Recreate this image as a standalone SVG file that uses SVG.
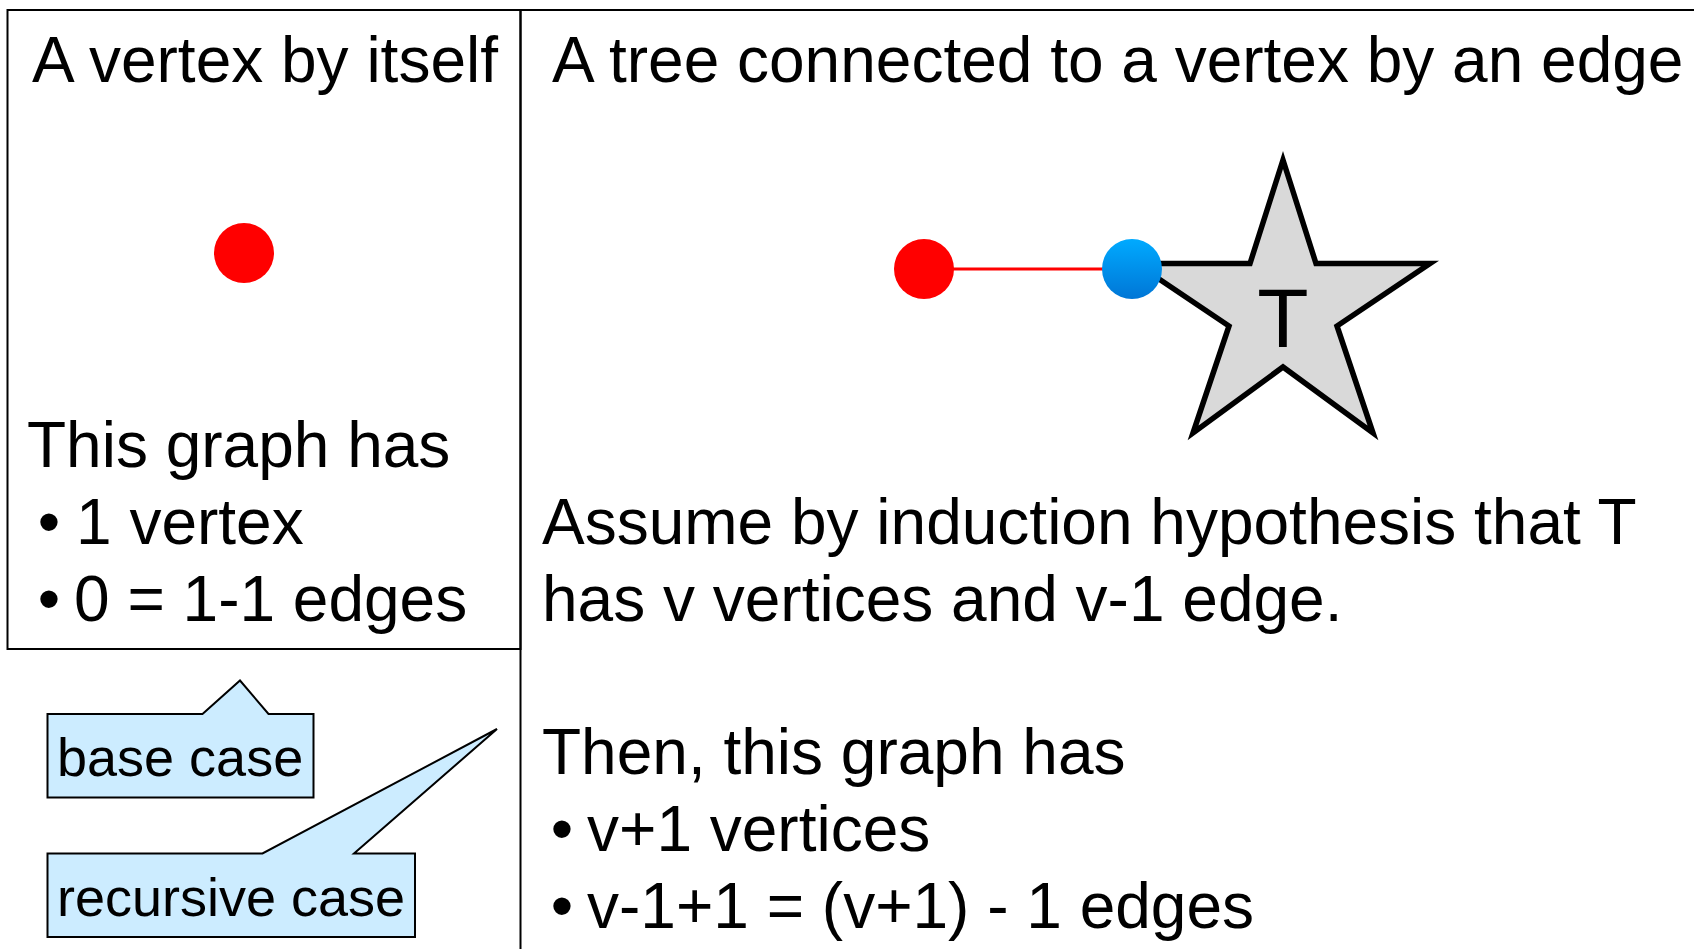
<svg xmlns="http://www.w3.org/2000/svg" width="1694" height="949" viewBox="0 0 1694 949">
  <style>
    .t { font-family: "Liberation Sans", Arial, sans-serif; fill: #000; }
    .big { font-size: 64px; }
    .call { font-size: 54px; }
    .frame { fill: none; stroke: #000; stroke-width: 2; }
    .callout { fill: #CCECFF; stroke: #000; stroke-width: 2; stroke-linejoin: miter; }
    .red { fill: #FF0000; }
  </style>
  <defs>
    <linearGradient id="blueGrad" x1="0" y1="0" x2="0" y2="1">
      <stop offset="0" stop-color="#00AAFF"/>
      <stop offset="1" stop-color="#0076D6"/>
    </linearGradient>
  </defs>
  <rect width="1694" height="949" fill="#fff"/>

  <g id="frames">
    <rect class="frame" x="7.5" y="10" width="513" height="639"/>
    <line class="frame" x1="520.5" y1="10" x2="1694" y2="10"/>
    <line class="frame" x1="520.5" y1="10" x2="520.5" y2="949"/>
  </g>

  <g id="left-panel">
    <text class="t big" x="32" y="82">A vertex by itself</text>
    <text class="t big" x="27" y="467">This graph has</text>
    <text class="t big" x="49" y="544" text-anchor="middle">•</text>
    <text class="t big" x="76" y="544">1 vertex</text>
    <text class="t big" x="49" y="621" text-anchor="middle">•</text>
    <text class="t big" x="74" y="621">0 = 1-1 edges</text>
  </g>

  <g id="connectors">
    <line x1="924" y1="269" x2="1132" y2="269" stroke="#FF0000" stroke-width="3"/>
  </g>

  <g id="vertex-single">
    <circle class="red" cx="244" cy="253" r="30"/>
  </g>

  <g id="tree-T">
    <polygon points="1283,160 1316,263.5 1430,263.5 1337,326 1373,433 1283,367 1193,433 1229,326 1136,263.5 1250,263.5" fill="#D9D9D9" stroke="#000" stroke-width="5.5" stroke-linejoin="miter"/>
    <text class="t" x="1283" y="347" font-size="84" text-anchor="middle">T</text>
  </g>

  <g id="vertex-new">
    <circle class="red" cx="924" cy="269" r="30"/>
  </g>

  <g id="vertex-root">
    <circle cx="1132" cy="269" r="30" fill="url(#blueGrad)"/>
  </g>

  <g id="right-panel">
    <text class="t big" x="552" y="82">A tree connected to a vertex by an edge</text>
    <text class="t big" x="542" y="544">Assume by induction hypothesis that T</text>
    <text class="t big" x="542" y="621">has v vertices and v-1 edge.</text>
    <text class="t big" x="542" y="774">Then, this graph has</text>
    <text class="t big" x="562" y="851" text-anchor="middle">•</text>
    <text class="t big" x="587" y="851">v+1 vertices</text>
    <text class="t big" x="562" y="928" text-anchor="middle">•</text>
    <text class="t big" x="587" y="928">v-1+1 = (v+1) - 1 edges</text>
  </g>

  <g id="callout-base">
    <path class="callout" d="M47.5,714 H202.5 L240,680.5 L268.5,714 H313.5 V797.5 H47.5 Z"/>
    <text class="t call" x="57" y="776">base case</text>
  </g>

  <g id="callout-recursive">
    <path class="callout" d="M47.5,853.5 H262.5 L497,729 L354,853.5 H415 V937 H47.5 Z"/>
    <text class="t call" x="57" y="916">recursive case</text>
  </g>
</svg>
